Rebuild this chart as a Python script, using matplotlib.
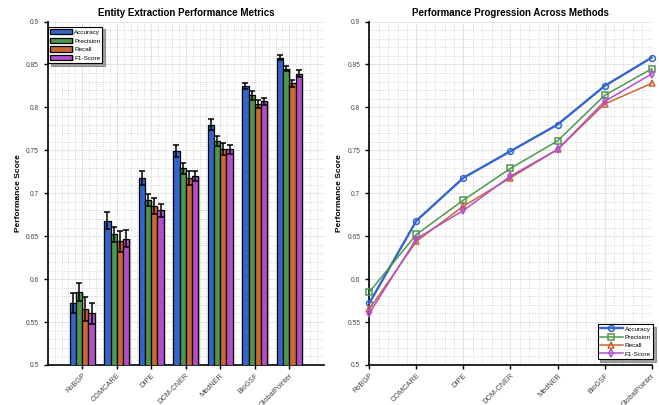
import numpy as np
import matplotlib
matplotlib.use('Agg')
import matplotlib.pyplot as plt
import matplotlib.patheffects as pe
from matplotlib.ticker import MultipleLocator, FuncFormatter

plt.rcParams['font.family'] = ['Liberation Sans', 'DejaVu Sans']

# methods and scores
methods = ['RoBGP', 'COMCARE', 'DIPE', 'DCM-CNER', 'MedNER', 'BioGSF', 'GlobalPointer']
metrics = ['Accuracy', 'Precision', 'Recall', 'F1-Score']

accuracy = [0.572, 0.668, 0.718, 0.749, 0.780, 0.825, 0.858]
precision = [0.585, 0.652, 0.692, 0.729, 0.761, 0.814, 0.845]
recall = [0.565, 0.644, 0.685, 0.718, 0.751, 0.804, 0.828]
f1_score = [0.560, 0.647, 0.680, 0.720, 0.751, 0.807, 0.839]

# standard deviations for the error bars
acc_std = [0.012, 0.010, 0.008, 0.007, 0.006, 0.004, 0.003]
prec_std = [0.011, 0.009, 0.007, 0.006, 0.006, 0.005, 0.003]
rec_std = [0.014, 0.012, 0.009, 0.008, 0.007, 0.005, 0.004]
f1_std = [0.012, 0.010, 0.008, 0.006, 0.005, 0.004, 0.004]

colors = ['#3366CC', '#4C994C', '#CC6633', '#B34DCC']
markers = ['o', 's', '^', 'd']
scores = [accuracy, precision, recall, f1_score]
stds = [acc_std, prec_std, rec_std, f1_std]

fig = plt.figure(figsize=(6.59, 4.05), dpi=100)
ax1 = fig.add_axes([0.0724, 0.0988, 0.419, 0.848])
ax2 = fig.add_axes([0.5604, 0.0988, 0.4285, 0.848])

x = np.arange(1, len(methods) + 1)
w = 0.18
offsets = [-1.5 * w, -0.5 * w, 0.5 * w, 1.5 * w]
shadow = [pe.SimplePatchShadow(offset=(1.0, -0.5), shadow_rgbFace='#777777', alpha=0.45), pe.Normal()]

# grouped bars with error bars
for i in range(4):
    ax1.bar(x + offsets[i], scores[i], w, color=colors[i], edgecolor='black', linewidth=0.9,
            label=metrics[i], path_effects=shadow, zorder=3)
    ax1.errorbar(x + offsets[i], scores[i], yerr=stds[i], fmt='none', ecolor='black',
                 elinewidth=1.1, capsize=2.2, capthick=1.1, zorder=4)

# line plot of the same scores
for i in range(4):
    ax2.plot(x, scores[i], color=colors[i], marker=markers[i], markersize=4.2,
             markerfacecolor='none', markeredgewidth=1.1,
             linewidth=1.7 if i == 0 else 1.1, label=metrics[i], zorder=3, clip_on=False)


def style(ax, title):
    ax.set_ylim(0.5, 0.9)
    ax.yaxis.set_major_locator(MultipleLocator(0.05))
    ax.yaxis.set_minor_locator(MultipleLocator(0.01))
    ax.xaxis.set_minor_locator(MultipleLocator(0.2))
    ax.yaxis.set_major_formatter(FuncFormatter(lambda v, p: '%g' % round(v, 2)))
    ax.set_xticks(x)
    ax.set_xticklabels(methods, rotation=45, ha='right', rotation_mode='anchor')
    ax.grid(True, which='major', color='#e4e4e4', linewidth=0.7, zorder=0)
    ax.grid(True, which='minor', color='#c8c8c8', linestyle=':', linewidth=0.6, zorder=0)
    ax.set_axisbelow(True)
    for s in ['top', 'right']:
        ax.spines[s].set_visible(False)
    for s in ['left', 'bottom']:
        ax.spines[s].set_linewidth(1.2)
    ax.tick_params(which='major', direction='out', length=3, width=1.0, labelcolor='#444444')
    ax.tick_params(axis='y', labelsize=4.8)
    ax.tick_params(axis='x', labelsize=5.3, pad=2)
    ax.tick_params(which='minor', length=0)
    ax.set_ylabel('Performance Score', fontsize=6, fontweight='bold', labelpad=3)
    ax.set_title(title, fontsize=7, fontweight='bold', pad=4)


style(ax1, 'Entity Extraction Performance Metrics')
ax1.set_xlim(0, 8)
style(ax2, 'Performance Progression Across Methods')
ax2.set_xlim(1, 7)

leg1 = ax1.legend(loc='upper left', bbox_to_anchor=(0.002, 0.985), fontsize=4.6,
                  frameon=True, fancybox=False, shadow=True,
                  borderaxespad=0, handlelength=3.4, handleheight=0.9,
                  labelspacing=0.45, handletextpad=0.3, borderpad=0.35)
leg1.get_frame().set_edgecolor('black')
leg1.get_frame().set_linewidth(0.8)

leg2 = ax2.legend(loc='lower right', bbox_to_anchor=(1.005, 0.018), fontsize=4.6,
                  frameon=True, fancybox=False, shadow=True,
                  borderaxespad=0, handlelength=3.6, labelspacing=0.45,
                  handletextpad=0.3, borderpad=0.35)
leg2.get_frame().set_edgecolor('black')
leg2.get_frame().set_linewidth(0.8)

fig.savefig('out.png', dpi=100)
